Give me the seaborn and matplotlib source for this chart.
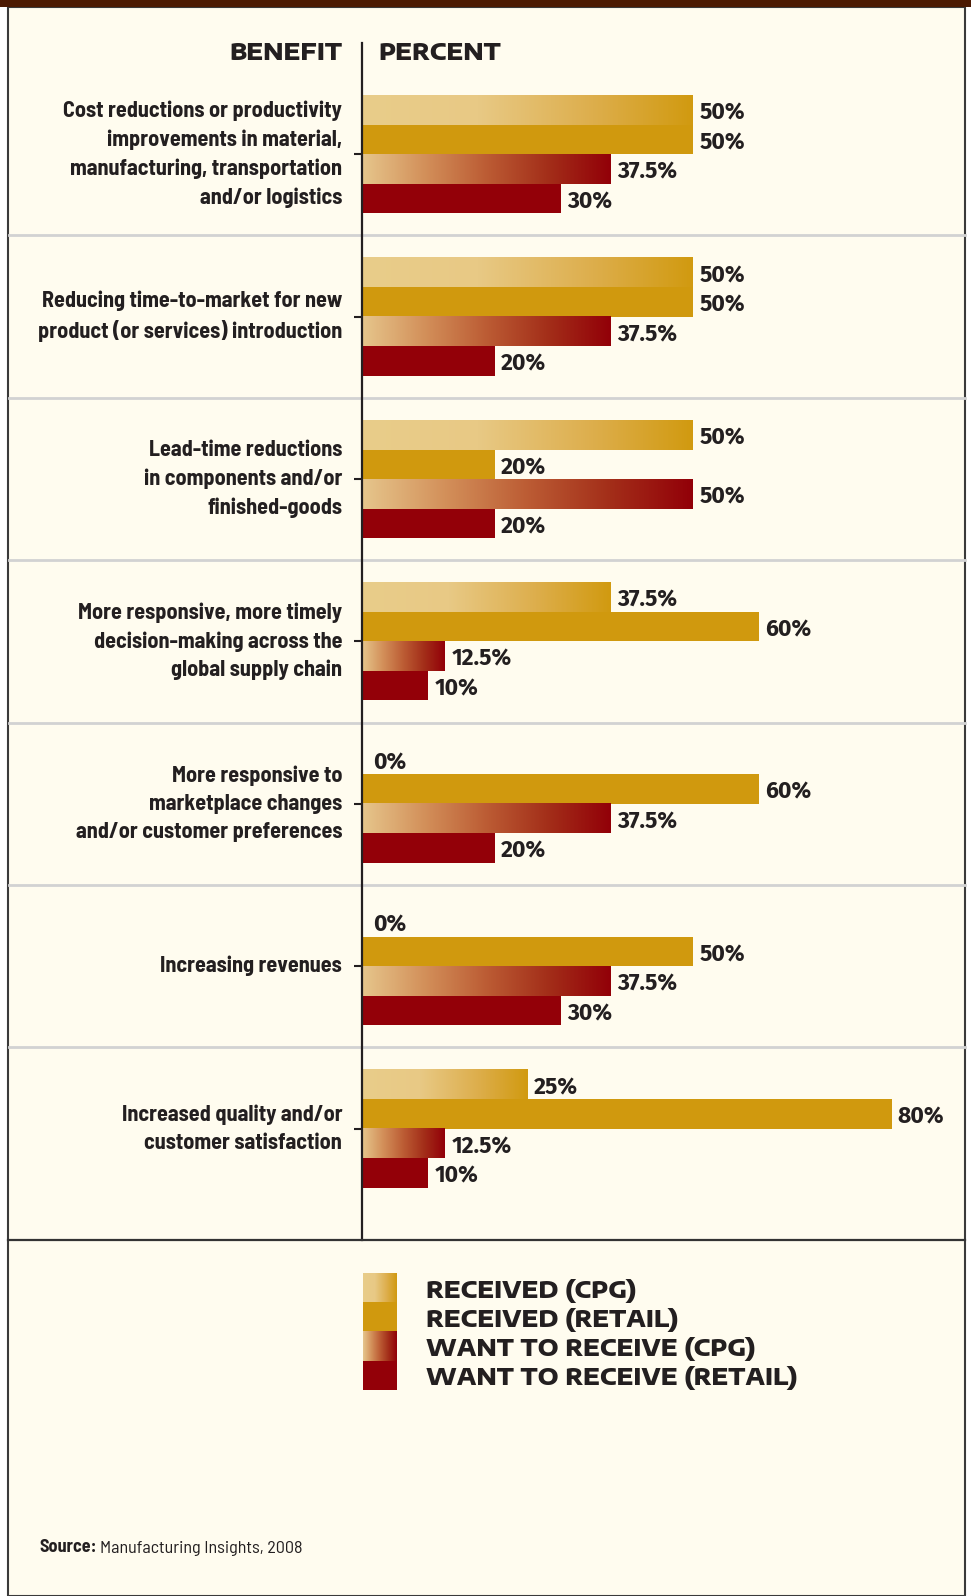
import numpy as np
import pandas as pd
import matplotlib
matplotlib.use("Agg")
import matplotlib.pyplot as plt
from matplotlib import font_manager as fm
from matplotlib.colors import LinearSegmentedColormap
from matplotlib.lines import Line2D
from matplotlib.patches import Rectangle
from matplotlib.transforms import blended_transform_factory
from matplotlib.font_manager import FontProperties
import seaborn as sns

# ---- data -------------------------------------------------------------
benefits = [
    "Cost reductions or productivity\nimprovements in material,\nmanufacturing, transportation\nand/or logistics",
    "Reducing time-to-market for new\nproduct (or services) introduction",
    "Lead-time reductions\nin components and/or\nfinished-goods",
    "More responsive, more timely\ndecision-making across the\nglobal supply chain",
    "More responsive to\nmarketplace changes\nand/or customer preferences",
    "Increasing revenues",
    "Increased quality and/or\ncustomer satisfaction",
]
series = ["RECEIVED (CPG)", "RECEIVED (RETAIL)", "WANT TO RECEIVE (CPG)", "WANT TO RECEIVE (RETAIL)"]
received_cpg = [50, 50, 50, 37.5, 0, 0, 25]
received_retail = [50, 50, 20, 60, 60, 50, 80]
want_cpg = [37.5, 37.5, 50, 12.5, 37.5, 37.5, 12.5]
want_retail = [30, 20, 20, 10, 20, 30, 10]

df = pd.DataFrame({
    "benefit": benefits * 4,
    "series": np.repeat(series, len(benefits)),
    "value": received_cpg + received_retail + want_cpg + want_retail,
})

# ---- fonts ------------------------------------------------------------
_installed = {f.name for f in fm.fontManager.ttflist}


def families(*cands):
    return [c for c in cands if c in _installed] + ["DejaVu Sans"]


COND = families("Barlow Semi Condensed", "Fira Sans Condensed", "Asap Condensed", "IBM Plex Sans Condensed")
DEMI = families("Fira Sans", "Barlow", "Archivo")
WIDE = families("Encode Sans Expanded", "Encode Sans Semi Expanded", "Archivo Black")

label_font = FontProperties(family=COND, weight="bold", size=16)
value_font = FontProperties(family=DEMI, weight="bold", size=16.5)
caps_font = FontProperties(family=WIDE, weight=800, size=16.5)

# ---- styling ----------------------------------------------------------
W, H = 971, 1596
CREAM = "#fffcef"
GOLD = "#d0990e"
RED = "#930008"
INK = "#231f20"
palette = {series[0]: "#e8cb86", series[1]: GOLD, series[2]: "#c07040", series[3]: RED}
cmap_received = LinearSegmentedColormap.from_list(
    "rcv", [(0, "#e9cd8a"), (0.35, "#e8c985"), (0.7, "#ddae4c"), (1, "#d19a10")])
cmap_want = LinearSegmentedColormap.from_list(
    "want", [(0, "#e6c68c"), (0.25, "#d3905a"), (0.5, "#bc5c34"), (0.75, "#a32e19"), (1, "#920008")])


def px_x(x):
    return x / W


def px_y(y):
    return 1 - y / H


fig = plt.figure(figsize=(W / 100, H / 100), dpi=100, facecolor="white")

# panel background, frame and top band
fig.patches.append(Rectangle((px_x(8), 0), px_x(965) - px_x(8), px_y(7), transform=fig.transFigure,
                             facecolor=CREAM, edgecolor="#3a3a3a", linewidth=1.5, zorder=-2))
fig.patches.append(Rectangle((0, px_y(7)), 1, 1 - px_y(7), transform=fig.transFigure,
                             facecolor="#4c1a02", edgecolor="none", zorder=-1))

AX_L, AX_R, AX_T, AX_B = 362.3, 964.9, 42.7, 1239.7
XMAX = 91.08
YLIM = (6.684, -0.687)
ax = fig.add_axes([px_x(AX_L), px_y(AX_B), px_x(AX_R) - px_x(AX_L), (AX_B - AX_T) / H])
ax.set_facecolor("none")

sns.barplot(data=df, y="benefit", x="value", hue="series", hue_order=series, order=benefits,
            palette=palette, saturation=1, orient="h", width=0.727, errorbar=None, linewidth=0,
            legend=False, ax=ax, zorder=3)


def paint_gradient(axis, patch, cmap):
    x0, y0 = patch.get_x(), patch.get_y()
    w, h = patch.get_width(), patch.get_height()
    if w <= 0:
        return
    grad = np.linspace(0, 1, 256).reshape(1, -1)
    axis.imshow(grad, cmap=cmap, aspect="auto", extent=[x0, x0 + w, y0 + h, y0],
                interpolation="bilinear", zorder=patch.get_zorder() + 0.1)


for patch in ax.containers[0]:
    paint_gradient(ax, patch, cmap_received)
for patch in ax.containers[2]:
    paint_gradient(ax, patch, cmap_want)
ax.set_xlim(0, XMAX)
ax.set_ylim(*YLIM)

for cont in ax.containers:
    labels = [f"{v:g}%" for v in cont.datavalues]
    txts = ax.bar_label(cont, labels=labels, padding=4.5, zorder=6)
    for t, v in zip(txts, cont.datavalues):
        t.set_fontproperties(value_font)
        t.set_color(INK)
        t.xyann = (8 if v == 0 else 4.5, -2.2)

# axes cosmetics
for s in ["top", "right", "bottom"]:
    ax.spines[s].set_visible(False)
ax.spines["left"].set_color(INK)
ax.spines["left"].set_linewidth(1.6)
ax.spines["left"].set_zorder(7)
ax.set_xticks([])
ax.set_xlabel("")
ax.set_ylabel("")
ax.tick_params(axis="y", direction="out", length=6, width=1.5, color=INK, pad=8.5)
for t in ax.get_yticklabels():
    t.set_fontproperties(label_font)
    t.set_color(INK)
    t.set_linespacing(1.5)
    t.set_multialignment("right")
    t.set_verticalalignment("center")

# row separators spanning the whole panel
blend = blended_transform_factory(fig.transFigure, ax.transData)
for k in range(len(benefits) - 1):
    ax.add_line(Line2D([px_x(8.5), px_x(964.5)], [k + 0.5, k + 0.5], transform=blend,
                       color="#d2d2d2", linewidth=2.0, clip_on=False, zorder=1))
fig.add_artist(Line2D([px_x(8), px_x(965)], [px_y(AX_B), px_y(AX_B)], color="#333333",
                      linewidth=1.6, zorder=5))

# column headers
fig.text(px_x(342), px_y(53), "BENEFIT", ha="right", va="center", fontproperties=caps_font, color=INK)
fig.text(px_x(378), px_y(53), "PERCENT", ha="left", va="center", fontproperties=caps_font, color=INK)

# legend
LG_L, LG_T, SW_W, SW_H = 363.4, 1273.0, 34.0, 29.3
lax = fig.add_axes([px_x(LG_L), px_y(LG_T + 4 * SW_H), px_x(965) - px_x(LG_L), 4 * SW_H / H])
lax.set_axis_off()
legend_bars = lax.barh(np.arange(4) + 0.5, [SW_W] * 4, height=1.0,
                       color=[palette[s] for s in series], linewidth=0, zorder=2)
paint_gradient(lax, legend_bars[0], cmap_received)
paint_gradient(lax, legend_bars[2], cmap_want)
lax.set_xlim(0, 965 - LG_L)
lax.set_ylim(4, 0)
for i, s in enumerate(series):
    lax.text(426 - LG_L, i + 0.6, s, ha="left", va="center", fontproperties=caps_font, color=INK)

# source line
src_font_b = FontProperties(family=COND, weight="bold", size=13)
src_font = FontProperties(family=COND, weight="normal", size=13)
t1 = fig.text(px_x(39), px_y(1548), "Source:", ha="left", va="center", fontproperties=src_font_b, color=INK)
renderer = fig.canvas.get_renderer()
bb = t1.get_window_extent(renderer)
fig.text(bb.x1 / W + px_x(4), px_y(1548), "Manufacturing Insights, 2008", ha="left", va="center",
         fontproperties=src_font, color=INK)

fig.savefig("out.png", dpi=100, facecolor="white")
